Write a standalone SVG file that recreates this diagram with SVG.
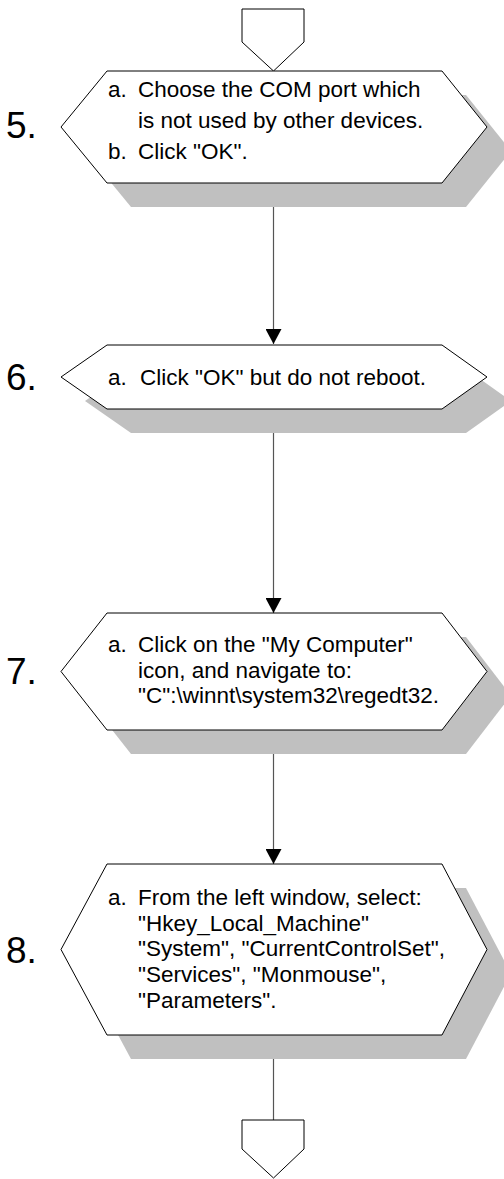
<svg xmlns="http://www.w3.org/2000/svg" width="504" height="1179" viewBox="0 0 504 1179">
<style>
.hex{fill:#fff;stroke:#000;stroke-width:1}
.sh{fill:#c0c0c0;stroke:none}
.off{fill:#fff;stroke:#000;stroke-width:1}
.t{font-family:"Liberation Sans",Arial,sans-serif;font-size:22.5px;fill:#000}
.n{font-family:"Liberation Sans",Arial,sans-serif;font-size:37px;fill:#000}
.ln{stroke:#555;stroke-width:1.2;fill:none}
</style>
<defs>
<marker id="ah" markerWidth="15" markerHeight="16" refX="15" refY="8" orient="auto" markerUnits="userSpaceOnUse" viewBox="0 0 15 16">
<path d="M0,0 L15,8 L0,16 Z" fill="#000"/>
</marker>
</defs>
<rect width="504" height="1179" fill="#fff"/>
<g id="connectors">
<line class="ln" x1="273.5" y1="183" x2="273.5" y2="344" marker-end="url(#ah)"/>
<line class="ln" x1="273.5" y1="409" x2="273.5" y2="613" marker-end="url(#ah)"/>
<line class="ln" x1="273.5" y1="730" x2="273.5" y2="864" marker-end="url(#ah)"/>
<line class="ln" x1="273.5" y1="1035" x2="273.5" y2="1120"/>
</g>
<g id="start">
<path class="off" d="M242,9 L304,9 L304,42 L273.5,71 L242,42 Z"/>
</g>
<g id="step5">
<path class="sh" d="M131,95 L466,95 L511,151 L466,207 L131,207 L85,151 Z"/>
<path class="hex" d="M107,71 L442,71 L487,127 L442,183 L107,183 L61,127 Z"/>
<text class="n" x="6" y="138">5.</text>
<text class="t" x="108" y="97">a.</text>
<text class="t" x="138" y="97">Choose the COM port which</text>
<text class="t" x="138" y="128">is not used by other devices.</text>
<text class="t" x="108" y="159">b.</text>
<text class="t" x="138" y="159">Click "OK".</text>
</g>
<g id="step6">
<path class="sh" d="M131,369 L466,369 L511,401 L466,433 L131,433 L85,401 Z"/>
<path class="hex" d="M107,345 L442,345 L487,377 L442,409 L107,409 L61,377 Z"/>
<text class="n" x="6" y="390">6.</text>
<text class="t" x="108" y="385">a.</text>
<text class="t" x="140" y="385">Click "OK" but do not reboot.</text>
</g>
<g id="step7">
<path class="sh" d="M131,637 L466,637 L511,695.5 L466,754 L131,754 L85,695.5 Z"/>
<path class="hex" d="M107,613 L442,613 L487,671.5 L442,730 L107,730 L61,671.5 Z"/>
<text class="n" x="6" y="684">7.</text>
<text class="t" x="108" y="652">a.</text>
<text class="t" x="138" y="652">Click on the "My Computer"</text>
<text class="t" x="138" y="677.5">icon, and navigate to:</text>
<text class="t" x="138" y="703">"C":\winnt\system32\regedt32.</text>
</g>
<g id="step8">
<path class="sh" d="M131,888 L466,888 L511,973.5 L466,1059 L131,1059 L85,973.5 Z"/>
<path class="hex" d="M107,864 L442,864 L487,949.5 L442,1035 L107,1035 L61,949.5 Z"/>
<text class="n" x="6" y="963">8.</text>
<text class="t" x="108" y="905">a.</text>
<text class="t" x="138" y="905">From the left window, select:</text>
<text class="t" x="138" y="930.7">"Hkey_Local_Machine"</text>
<text class="t" x="138" y="956.4">"System", "CurrentControlSet",</text>
<text class="t" x="138" y="982.1">"Services", "Monmouse",</text>
<text class="t" x="138" y="1007.8">"Parameters".</text>
</g>
<g id="end">
<path class="off" d="M242,1120 L304,1120 L304,1149 L273.5,1178 L242,1149 Z"/>
</g>
</svg>
